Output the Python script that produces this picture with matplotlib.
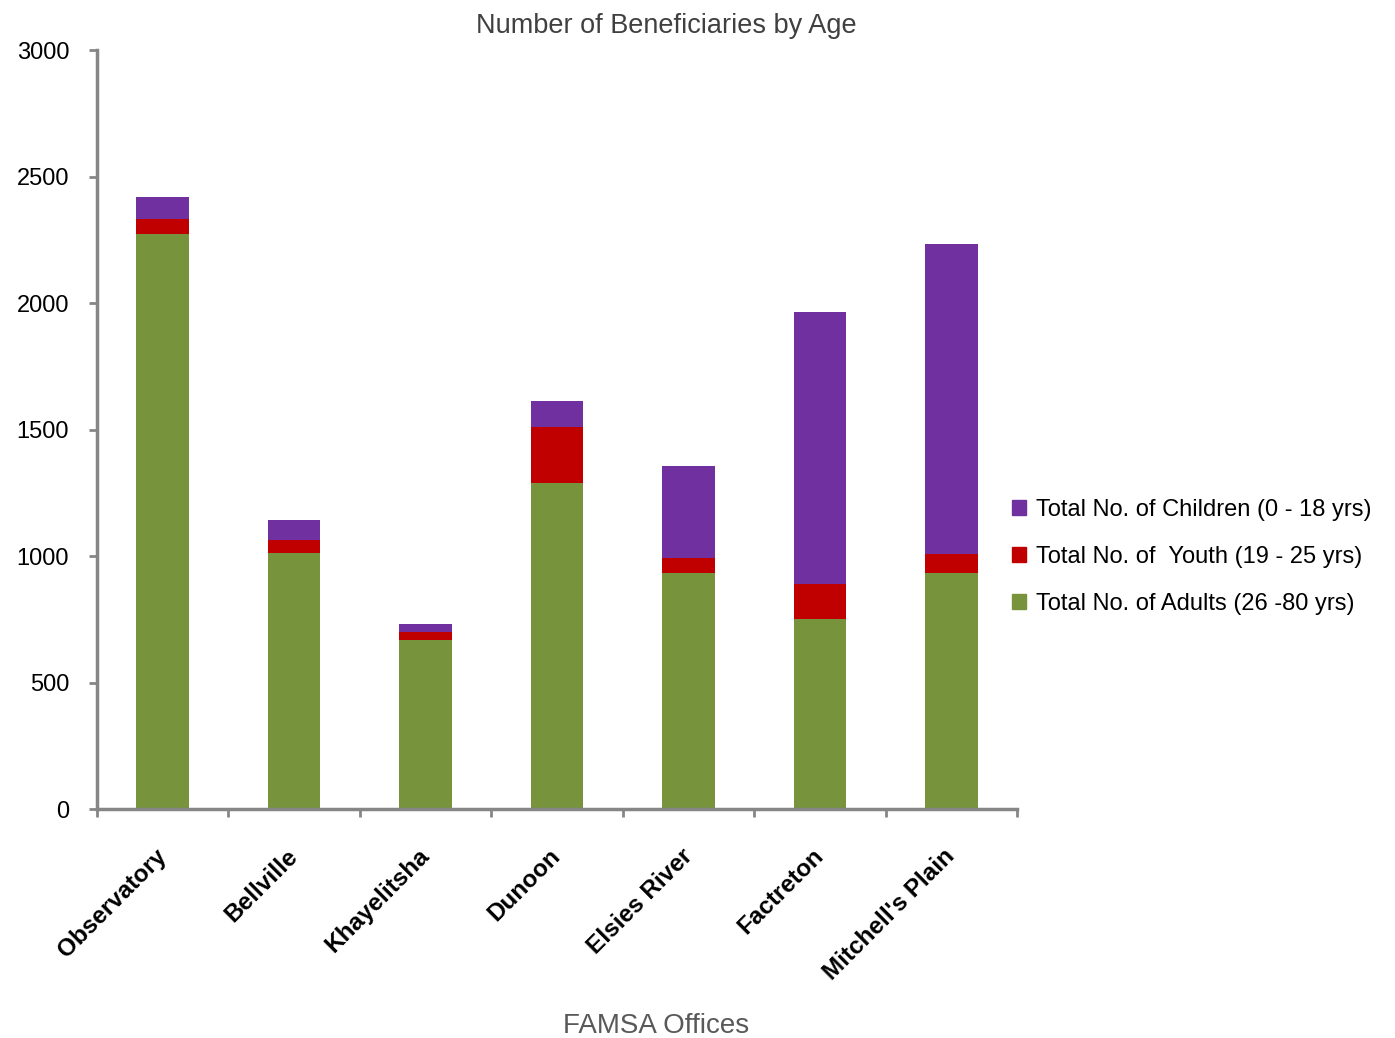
import numpy as np
import matplotlib.pyplot as plt
from matplotlib.patches import Patch
from matplotlib.ticker import FixedLocator, NullFormatter

offices = ["Observatory", "Bellville", "Khayelitsha", "Dunoon",
           "Elsies River", "Factreton", "Mitchell's Plain"]
adults = [2272, 1012, 668, 1289, 933, 751, 933]
youth = [60, 51, 32, 221, 59, 138, 75]
children = [87, 79, 31, 103, 364, 1075, 1225]

GREEN = "#77933C"
RED = "#C00000"
PURPLE = "#7030A0"
AXIS_GREY = "#868686"

narrow = ["Liberation Sans Narrow", "Liberation Sans", "DejaVu Sans"]
plt.rcParams["font.family"] = narrow

fig = plt.figure(figsize=(13.95, 10.38), dpi=100)
ax = fig.add_axes([0.0695, 0.2206, 0.6595, 0.7312])

x = np.arange(len(offices))
w = 0.40
adults = np.array(adults)
youth = np.array(youth)
children = np.array(children)

ax.bar(x, adults, w, color=GREEN, label="Total No. of Adults (26 -80 yrs)")
ax.bar(x, youth, w, bottom=adults, color=RED,
       label="Total No. of  Youth (19 - 25 yrs)")
ax.bar(x, children, w, bottom=adults + youth, color=PURPLE,
       label="Total No. of Children (0 - 18 yrs)")

ax.set_xlim(-0.5, len(offices) - 0.5)
ax.set_ylim(0, 3000)
ax.set_yticks(range(0, 3001, 500))
ax.tick_params(axis="y", labelsize=17, colors=AXIS_GREY, labelcolor="black",
               direction="out", length=6, width=2, pad=14)

# category boundaries carry the tick marks, labels sit under bar centres
ax.xaxis.set_major_locator(FixedLocator(np.arange(-0.5, len(offices), 1.0)))
ax.xaxis.set_major_formatter(NullFormatter())
ax.tick_params(axis="x", colors=AXIS_GREY, direction="out", length=6, width=2)
for i, name in enumerate(offices):
    ax.text(i - 0.06, -140, name, rotation=45, ha="right", va="top",
            rotation_mode="anchor", fontsize=17.5, fontweight="bold",
            family=["Liberation Sans", "DejaVu Sans"])

for side in ("top", "right"):
    ax.spines[side].set_visible(False)
for side in ("left", "bottom"):
    ax.spines[side].set_color(AXIS_GREY)
    ax.spines[side].set_linewidth(2.5)

fig.text(0.478, 0.975, "Number of Beneficiaries by Age", fontsize=19.5,
         color="#404040", ha="center", va="center")
fig.text(0.47, 0.012, "FAMSA Offices", fontsize=20, color="#595959",
         ha="center", va="center")

handles = [Patch(color=PURPLE), Patch(color=RED), Patch(color=GREEN)]
labels = ["Total No. of Children (0 - 18 yrs)",
          "Total No. of  Youth (19 - 25 yrs)",
          "Total No. of Adults (26 -80 yrs)"]
fig.legend(handles, labels, loc="center left", bbox_to_anchor=(0.7255, 0.4634),
           frameon=False, fontsize=17, handlelength=0.6, handleheight=0.6,
           handletextpad=0.4, labelspacing=1.05, borderpad=0,
           borderaxespad=0)

fig.savefig("out.png", dpi=100)
